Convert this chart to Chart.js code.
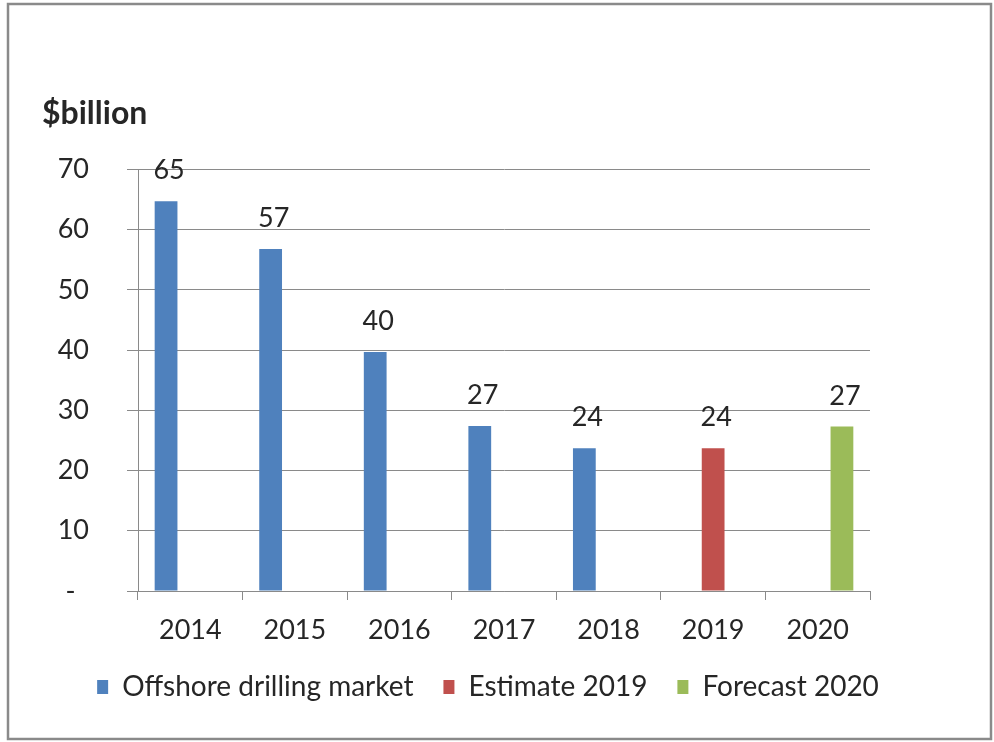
<!DOCTYPE html>
<html>
<head>
<meta charset="utf-8">
<script src="https://cdn.jsdelivr.net/npm/chart.js@4"></script>
<style>
  html, body { margin: 0; padding: 0; background: #fff; }
  #wrap { position: relative; width: 994px; height: 742px; }
</style>
</head>
<body>
<div id="wrap"><canvas id="c" width="994" height="742"></canvas></div>
<script>
const categories = ['2014', '2015', '2016', '2017', '2018', '2019', '2020'];
const offshoreMarket = [64.7, 56.8, 39.7, 27.4, 23.7, null, null];
const estimate2019 = [null, null, null, null, null, 23.7, null];
const forecast2020 = [null, null, null, null, null, null, 27.3];
const seriesNames = ['Offshore drilling market', 'Estimate 2019', 'Forecast 2020'];
const yTicks = [0, 10, 20, 30, 40, 50, 60, 70];
const unitLabel = '$billion';

const FONT = 'Lato, "Open Sans", sans-serif';
const TEXT = '#262626';

const borderPlugin = {
  id: 'outerBorder',
  beforeDraw(chart) {
    const ctx = chart.ctx;
    ctx.save();
    ctx.fillStyle = '#fff';
    ctx.fillRect(0, 0, chart.width, chart.height);
    ctx.strokeStyle = '#8a8a8a';
    ctx.lineWidth = 2.5;
    ctx.strokeRect(8, 4, 983, 735);
    ctx.restore();
  }
};

const valueLabels = {
  id: 'valueLabels',
  afterDatasetsDraw(chart) {
    const ctx = chart.ctx;
    ctx.save();
    ctx.font = '27px ' + FONT;
    ctx.fillStyle = TEXT;
    ctx.textAlign = 'center';
    ctx.textBaseline = 'alphabetic';
    chart.data.datasets.forEach((ds, di) => {
      const meta = chart.getDatasetMeta(di);
      meta.data.forEach((el, i) => {
        const v = ds.data[i];
        if (v === null || v === undefined) return;
        ctx.fillText(String(Math.round(v)), el.x + 3, el.y - 22);
      });
    });
    ctx.restore();
  }
};

new Chart(document.getElementById('c'), {
  type: 'bar',
  data: {
    labels: categories,
    datasets: [
      { label: seriesNames[0], data: offshoreMarket, backgroundColor: '#4F81BD', borderWidth: 0 },
      { label: seriesNames[1], data: estimate2019, backgroundColor: '#C0504D', borderWidth: 0 },
      { label: seriesNames[2], data: forecast2020, backgroundColor: '#9BBB59', borderWidth: 0 }
    ]
  },
  options: {
    responsive: false,
    animation: false,
    devicePixelRatio: 1,
    categoryPercentage: 0.695,
    barPercentage: 0.94,
    layout: { padding: { left: 42, right: 60, top: 0, bottom: 31 } },
    plugins: {
      title: {
        display: true,
        text: unitLabel,
        align: 'start',
        color: TEXT,
        font: { family: FONT, size: 32, weight: 'bold' },
        padding: { top: 94, bottom: 37 }
      },
      legend: {
        display: true,
        position: 'bottom',
        labels: {
          color: TEXT,
          font: { family: FONT, size: 28 },
          boxWidth: 11,
          boxHeight: 14,
          padding: 30
        }
      },
      tooltip: { enabled: false }
    },
    scales: {
      x: {
        afterFit(scale) { scale.height = 52; },
        grid: { display: true, drawOnChartArea: false, drawTicks: true, tickLength: 9, color: '#8a8a8a' },
        border: { display: true, color: '#8a8a8a' },
        ticks: { color: TEXT, font: { family: FONT, size: 27, lineHeight: 0.8 }, padding: 19 }
      },
      y: {
        min: 0,
        max: 70,
        afterBuildTicks(scale) { scale.ticks = yTicks.map(v => ({ value: v })); },
        afterFit(scale) { scale.width = 96; },
        grid: { color: '#8a8a8a', tickLength: 11, drawTicks: true },
        border: { display: true, color: '#8a8a8a' },
        ticks: {
          color: TEXT,
          font: { family: FONT, size: 27 },
          padding: 38,
          callback: (v) => (v === 0 ? '-\u2002' : String(v))
        }
      },
      yRight: {
        axis: 'y',
        position: 'right',
        display: true,
        afterFit(scale) { scale.width = 64; },
        grid: { display: false },
        border: { display: false },
        ticks: { display: false }
      }
    }
  },
  plugins: [borderPlugin, valueLabels]
});
</script>
</body>
</html>
